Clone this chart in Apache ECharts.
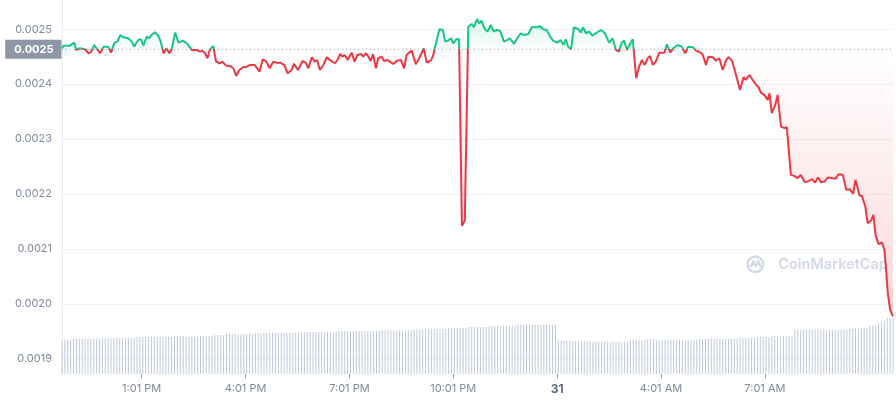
<!DOCTYPE html>
<html>
<head>
<meta charset="utf-8">
<script src="https://cdn.jsdelivr.net/npm/echarts@6/dist/echarts.min.js"></script>
<style>
html,body{margin:0;padding:0;background:#fff;}
#c{width:896px;height:400px;}
</style>
</head>
<body>
<div id="c"></div>
<script>
// minutes after 10:43 AM (24h window)
const times = [0,3,14,21,25,31,40,46,51,56,61,66,72,80,85,91,96,101,106,115,121,125,132,137,141,147,151,155,161,167,171,176,181,186,190,196,202,209,216,225,233,239,243,248,252,256,262,267,273,278,284,291,297,302,307,314,320,326,334,342,348,354,360,366,372,378,385,391,398,402,409,
417,423,427,433,438,442,447,453,459,464,473,478,482,486,490,495,502,507,512,518,522,527,531,535,539,544,548,554,558,564,568,574,581,587,593,597,606,613,619,627,632,639,643,648,654,660,664,669,674,678,684,688,693,698,704,710,714,719,723,727,732,737,743,748,753,759,766,772,776,783,789,795,801,808,814,823,828,834,840,846,851,858,864,869,873,877,882,887,895,899,903,908,914,919,925,
934,941,948,954,960,965,970,974,979,985,989,995,1000,1005,1010,1015,1019,1024,1029,1035,1044,1048,1054,1059,1067,1074,1080,1085,1093,1099,1106,1110,1116,1120,1128,1133,1139,1145,1151,1155,1161,1168,1175,1181,1185,1191,1197,1203,1207,1211,1217,1223,1226,1230,1236,1240,1246,1252,1256,
1263,1269,1275,1280,1287,1292,1300,1305,1310,1315,1321,1327,1336,1340,1346,1353,1359,1365,1371,1375,1382,1386,1392,1396,1402,1406,1410,1415,1421,1425,1428,1431,1435,1440];

const prices = [0.0024654,0.0024702,0.0024702,0.0024756,0.0024623,0.0024654,0.0024636,0.0024563,0.0024592,0.0024714,
0.0024636,0.0024563,0.0024683,0.0024683,0.0024574,0.0024756,0.0024774,0.0024896,0.0024854,0.0024836,
0.0024774,0.0024683,0.0024805,0.0024818,0.0024702,0.0024865,0.0024836,0.0024896,0.0024945,0.0024878,
0.0024774,0.0024563,0.0024654,0.0024563,0.0024636,0.0024938,0.0024756,0.0024793,0.0024745,0.0024623,
0.0024623,0.0024592,0.0024611,0.0024563,0.0024472,0.0024623,0.0024696,0.0024410,0.0024381,0.0024410,
0.0024338,0.0024332,0.0024290,0.0024150,0.0024259,0.0024309,0.0024319,0.0024350,0.0024350,0.0024228,
0.0024454,0.0024410,0.0024290,0.0024410,0.0024392,0.0024392,0.0024350,0.0024199,0.0024259,0.0024369,
0.0024259,
0.0024423,0.0024381,0.0024290,0.0024490,0.0024410,0.0024441,0.0024259,0.0024350,0.0024490,0.0024441,
0.0024381,0.0024454,0.0024550,0.0024501,0.0024532,0.0024441,0.0024574,0.0024410,0.0024532,0.0024550,
0.0024501,0.0024563,0.0024501,0.0024423,0.0024550,0.0024290,0.0024472,0.0024501,0.0024423,0.0024441,
0.0024410,0.0024369,0.0024429,0.0024441,0.0024290,0.0024532,0.0024611,0.0024363,0.0024472,0.0024654,
0.0024392,0.0024429,0.0024514,0.0024745,0.0025000,0.0024987,0.0024774,0.0024793,0.0024836,0.0024745,
0.0024823,0.0024818,0.0021420,0.0021517,0.0025047,0.0025096,0.0025036,0.0025187,0.0025109,0.0025157,
0.0025018,0.0024956,0.0025078,0.0024956,0.0024987,0.0024975,0.0024774,0.0024805,0.0024836,0.0024733,
0.0024836,0.0024927,0.0024896,0.0024914,0.0025036,0.0025036,0.0025060,0.0025000,0.0024987,0.0024865,
0.0024793,0.0024756,0.0024805,0.0024714,0.0024818,0.0024683,0.0024636,0.0025036,0.0025000,0.0024938,
0.0025036,0.0024927,0.0024956,0.0024884,0.0024927,
0.0024987,0.0024927,0.0024756,0.0024836,0.0024623,0.0024592,0.0024756,0.0024793,0.0024623,0.0024745,
0.0024818,0.0024108,0.0024319,0.0024441,0.0024350,0.0024472,0.0024514,0.0024350,0.0024410,0.0024574,
0.0024574,0.0024727,0.0024574,0.0024654,0.0024714,0.0024683,0.0024563,0.0024683,0.0024672,0.0024611,
0.0024574,0.0024545,0.0024350,0.0024501,0.0024490,0.0024429,0.0024472,0.0024259,0.0024441,0.0024490,
0.0024429,0.0024168,0.0023895,0.0024126,0.0024077,0.0024168,0.0024077,0.0023986,0.0023944,0.0023846,
0.0023804,0.0023713,0.0023835,0.0023471,0.0023622,0.0023804,0.0023228,0.0023198,0.0023217,
0.0022349,0.0022330,0.0022289,0.0022349,0.0022216,0.0022227,0.0022270,0.0022208,0.0022299,0.0022216,
0.0022227,0.0022299,0.0022289,0.0022276,0.0022361,0.0022349,0.0022076,0.0022088,0.0022003,0.0022258,
0.0021972,0.0021967,0.0021772,0.0021470,0.0021517,0.0021621,0.0021238,0.0021087,0.0021117,0.0020984,
0.0020620,0.0020196,0.0019892,0.0019770];

// volume bars, one per 5 minutes (relative units)
const volume = [
18.3,18.3,18.3,18.3,
18.9,18.9,18.9,18.9,18.9,18.9,18.9,18.9,18.9,18.9,
19.2,19.2,19.2,19.2,19.2,19.2,19.2,19.2,19.2,19.2,19.2,19.2,
19.8,19.8,19.8,19.8,19.8,19.8,19.8,19.8,19.8,19.8,19.8,19.8,19.8,
20.3,20.3,20.3,20.3,
19.9,19.9,19.9,19.9,
20.3,20.3,20.3,20.3,20.3,20.3,
20.8,20.8,20.8,20.8,
21.4,21.4,21.4,21.4,21.4,21.4,21.4,21.4,21.4,21.4,
21.9,21.9,21.9,21.9,21.9,21.9,21.9,21.9,21.9,21.9,21.9,21.9,21.9,21.9,21.9,
22.4,22.4,22.4,22.4,22.4,22.4,22.4,22.4,22.4,22.4,22.4,22.4,22.4,22.4,
23.0,23.0,23.0,23.0,23.0,23.0,23.0,23.0,23.0,23.0,23.0,23.0,23.0,23.0,23.0,
23.3,23.3,23.3,23.3,23.3,23.3,23.3,23.3,23.3,23.3,23.3,
23.7,23.7,23.7,23.7,23.7,
24.0,24.0,24.0,24.0,24.0,24.0,24.0,
24.6,24.6,24.6,24.6,24.6,24.6,24.6,
25.1,25.1,25.1,25.1,25.1,25.1,25.1,
25.8,25.8,25.8,25.8,25.8,25.8,25.8,25.8,25.8,25.8,
26.3,26.3,26.3,26.3,26.3,26.3,26.3,26.3,26.3,26.3,26.3,26.3,26.3,26.3,
17.8,17.8,17.8,17.8,17.8,17.8,
17.4,17.4,17.4,17.4,17.4,17.4,17.4,17.4,17.4,17.4,17.4,17.4,17.4,17.4,17.4,17.4,17.4,17.4,17.4,
18.3,18.3,18.3,18.3,18.3,18.3,
18.9,18.9,18.9,
18.3,18.3,18.3,18.3,18.3,18.3,18.3,18.3,18.3,18.3,18.3,18.3,18.3,18.3,18.3,
18.9,18.9,18.9,18.9,18.9,18.9,18.9,18.9,18.9,18.9,18.9,18.9,18.9,18.9,
19.2,19.2,19.2,19.2,19.2,19.2,
19.8,19.8,19.8,19.8,19.8,
20.3,20.3,20.3,20.3,20.3,20.3,20.3,20.3,
23.7,23.7,23.7,23.7,23.7,23.7,23.7,23.7,23.7,23.7,23.7,23.7,23.7,23.7,23.7,23.7,23.7,23.7,23.7,
24.2,24.2,24.2,24.2,
24.9,24.9,24.9,
26.0,26.0,26.0,
27.3,27.3,
28.5,
29.9,29.9,29.9];

const openPrice = 0.0024636;
const openLabel = '0.0025';
const yTicks = [0.0019, 0.0020, 0.0021, 0.0022, 0.0023, 0.0024, 0.0025];
const xTickMinutes = [138, 318, 498, 678, 858, 1038, 1218];
const xTickLabels = ['1:01 PM', '4:01 PM', '7:01 PM', '10:01 PM', '31', '4:01 AM', '7:01 AM'];

const GREEN = '#16c784', RED = '#ea3943';

const lineData = times.map((t, i) => [t, prices[i]]);
const upData = times.map((t, i) => [t, Math.max(prices[i], openPrice)]);
const downData = times.map((t, i) => [t, Math.min(prices[i], openPrice)]);
const volData = volume.map((v, i) => [i * 5, v]);
const openLine = [[times[0], openPrice], [times[times.length - 1], openPrice]];

const chart = echarts.init(document.getElementById('c'), null, {renderer: 'canvas'});
const option = {
  animation: false,
  backgroundColor: '#ffffff',
  textStyle: {fontFamily: 'Inter, "Noto Sans", sans-serif'},
  grid: {left: 62, right: 3, top: 0, bottom: 26, outerBoundsMode: 'none'},
  xAxis: {
    type: 'value', min: 0, max: 1440,
    axisLine: {show: false},
    axisTick: {show: true, customValues: xTickMinutes, length: 4, lineStyle: {color: '#8f97a8', width: 1}},
    axisLabel: {
      customValues: xTickMinutes, color: '#808a9d', fontSize: 11, margin: 9,
      formatter: function (v) {
        const i = xTickMinutes.indexOf(v);
        const s = i >= 0 ? xTickLabels[i] : '';
        return s === '31' ? '{b|31}' : s;
      },
      rich: {b: {fontWeight: 'bold', color: '#616e85', fontSize: 12}}
    },
    splitLine: {show: false}
  },
  yAxis: [{
    type: 'value', min: 0.0018722, max: 0.0025533, position: 'left',
    axisLine: {show: true, lineStyle: {color: '#e9ecf1', width: 1}},
    axisTick: {show: false, customValues: yTicks},
    axisLabel: {customValues: yTicks, color: '#808a9d', fontSize: 11, margin: 10,
      formatter: v => v.toFixed(4)},
    splitLine: {show: true, lineStyle: {color: '#eff2f5', width: 1}}
  }, {
    type: 'value', min: 0, max: 200, show: false,
    axisLine: {show: false}, axisTick: {show: false}, axisLabel: {show: false}, splitLine: {show: false}
  }],
  series: [{
    name: 'volume', type: 'bar', yAxisIndex: 1, data: volData, barWidth: 1,
    itemStyle: {color: '#bfc8da'}, z: 1, silent: true
  }, {
    name: 'up', type: 'line', data: upData, showSymbol: false, symbol: 'none',
    lineStyle: {width: 0, opacity: 0}, z: 2, silent: true,
    areaStyle: {origin: openPrice, color: new echarts.graphic.LinearGradient(0, 0, 0, 1, [
      {offset: 0, color: 'rgba(22,199,132,0.22)'}, {offset: 1, color: 'rgba(22,199,132,0.02)'}])}
  }, {
    name: 'down', type: 'line', data: downData, showSymbol: false, symbol: 'none',
    lineStyle: {width: 0, opacity: 0}, z: 2, silent: true,
    areaStyle: {origin: openPrice, color: new echarts.graphic.LinearGradient(0, 0, 0, 1, [
      {offset: 0, color: 'rgba(234,57,67,0)'}, {offset: 1, color: 'rgba(234,57,67,0.28)'}])}
  }, {
    name: 'open', type: 'line', data: openLine, showSymbol: false, symbol: 'none', silent: true,
    lineStyle: {width: 1, type: [1, 3], color: '#8f97a8'}, z: 3
  }, {
    name: 'price', type: 'line', data: lineData, showSymbol: false, symbol: 'none',
    lineStyle: {width: 2, color: RED}, z: 4
  }, {
    name: 'openLabel', type: 'scatter', data: [openLine[0]], symbolSize: 1, silent: true,
    itemStyle: {color: 'rgba(0,0,0,0)', opacity: 1}, z: 5, clip: false,
    label: {show: true, position: 'left', distance: 0, formatter: openLabel, opacity: 1,
      color: '#ffffff', fontWeight: 'bold', fontSize: 11, backgroundColor: '#8f96a6',
      padding: [4, 8, 4, 9], lineHeight: 11}
  }],
  graphic: [{
    type: 'group', left: 745, top: 254, silent: true, z: 0,
    children: [
      {type: 'circle', shape: {cx: 9, cy: 9, r: 7.8}, style: {fill: 'none', stroke: '#d3d9e4', lineWidth: 2.4}},
      {type: 'polyline', shape: {points: [[4.5, 12], [7, 6], [9.5, 11], [12, 6], [14.5, 12]]},
        style: {fill: 'none', stroke: '#d3d9e4', lineWidth: 2.4, lineJoin: 'round'}},
      {type: 'text', x: 32, y: 9, style: {text: 'CoinMarketCap', fill: '#d3d9e4', fontSize: 14.5,
        fontWeight: 600, fontFamily: 'Inter, "Noto Sans", sans-serif', verticalAlign: 'middle'}}
    ]
  }]
};
chart.setOption(option);

// colour the price line green above the opening price and red below it
const yOpen = chart.convertToPixel({yAxisIndex: 0}, openPrice);
const h = chart.getHeight();
chart.setOption({
  series: [{}, {}, {}, {}, {
    lineStyle: {color: new echarts.graphic.LinearGradient(0, 0, 0, h, [
      {offset: 0, color: GREEN}, {offset: yOpen / h, color: GREEN},
      {offset: yOpen / h, color: RED}, {offset: 1, color: RED}], true)}
  }]
});
</script>
</body>
</html>
